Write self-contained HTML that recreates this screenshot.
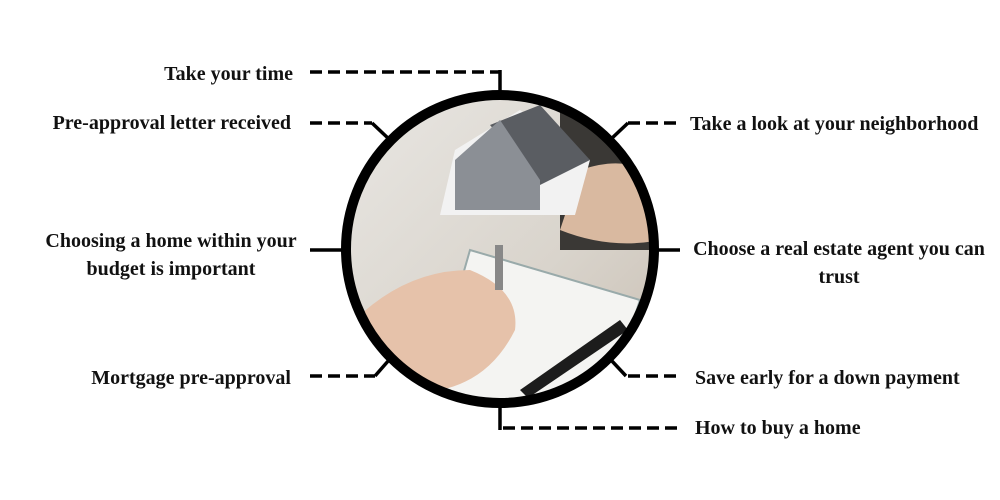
<!DOCTYPE html>
<html><head><style>
body{margin:0;background:#fff;}
svg{display:block}
text{font-family:"Liberation Serif",serif;font-weight:bold;font-size:20px;fill:#111}
</style></head><body>
<svg width="1000" height="500" viewBox="0 0 1000 500">
<defs>
<clipPath id="c"><circle cx="500" cy="249" r="154"/></clipPath>
<linearGradient id="bg" x1="0" y1="0" x2="1" y2="1">
<stop offset="0" stop-color="#e9e7e3"/><stop offset="0.6" stop-color="#d9d4cc"/><stop offset="1" stop-color="#c8beb2"/>
</linearGradient>
</defs>
<g clip-path="url(#c)">
<rect x="340" y="90" width="320" height="320" fill="url(#bg)"/>
<rect x="560" y="110" width="100" height="140" fill="#3a3835"/>
<path d="M580 170 Q640 150 660 190 L660 240 Q610 250 560 230 Z" fill="#d9b9a0"/>
<path d="M430 390 L470 250 L640 300 L600 420 Z" fill="#f4f4f2" stroke="#9aa" stroke-width="2"/>
<path d="M520 390 L620 320 L628 330 L528 398 Z" fill="#1c1c1c"/>
<path d="M345 330 Q400 270 470 270 Q520 290 515 330 Q490 380 440 390 Q380 400 345 380 Z" fill="#e6c2aa"/>
<path d="M440 215 L455 150 L520 110 L590 160 L575 215 Z" fill="#f2f2f2"/>
<path d="M490 125 L540 105 L590 160 L540 185 Z" fill="#5a5d62"/>
<path d="M455 160 L500 120 L540 180 L540 210 L455 210 Z" fill="#8b8f95"/>
<rect x="495" y="245" width="8" height="45" fill="#888"/>
</g>
<circle cx="500" cy="249" r="154" fill="none" stroke="#000" stroke-width="10"/>
<g stroke="#000" stroke-width="3.5" fill="none">
<g stroke-dasharray="12,6">
<path d="M310 72 H500"/>
<path d="M310 123 H372"/>
<path d="M628 123 H682"/>
<path d="M310 376 H375"/>
<path d="M628 376 H682"/>
<path d="M503 428 H682"/>
</g>
<path d="M500 70 V92"/>
<path d="M372 123 L390 140"/>
<path d="M610 140 L628 123"/>
<path d="M310 250 H342"/>
<path d="M658 250 H680"/>
<path d="M375 376 L389 360"/>
<path d="M611 360 L626 376"/>
<path d="M500 406 V430"/>
</g>
<text x="293" y="80" text-anchor="end">Take your time</text>
<text x="291" y="129" text-anchor="end">Pre-approval letter received</text>
<text x="171" y="247" text-anchor="middle">Choosing a home within your</text>
<text x="171" y="275" text-anchor="middle">budget is important</text>
<text x="291" y="384" text-anchor="end">Mortgage pre-approval</text>
<text x="690" y="130">Take a look at your neighborhood</text>
<text x="839" y="255" text-anchor="middle">Choose a real estate agent you can</text>
<text x="839" y="283" text-anchor="middle">trust</text>
<text x="695" y="384">Save early for a down payment</text>
<text x="695" y="434">How to buy a home</text>
</svg>
</body></html>
